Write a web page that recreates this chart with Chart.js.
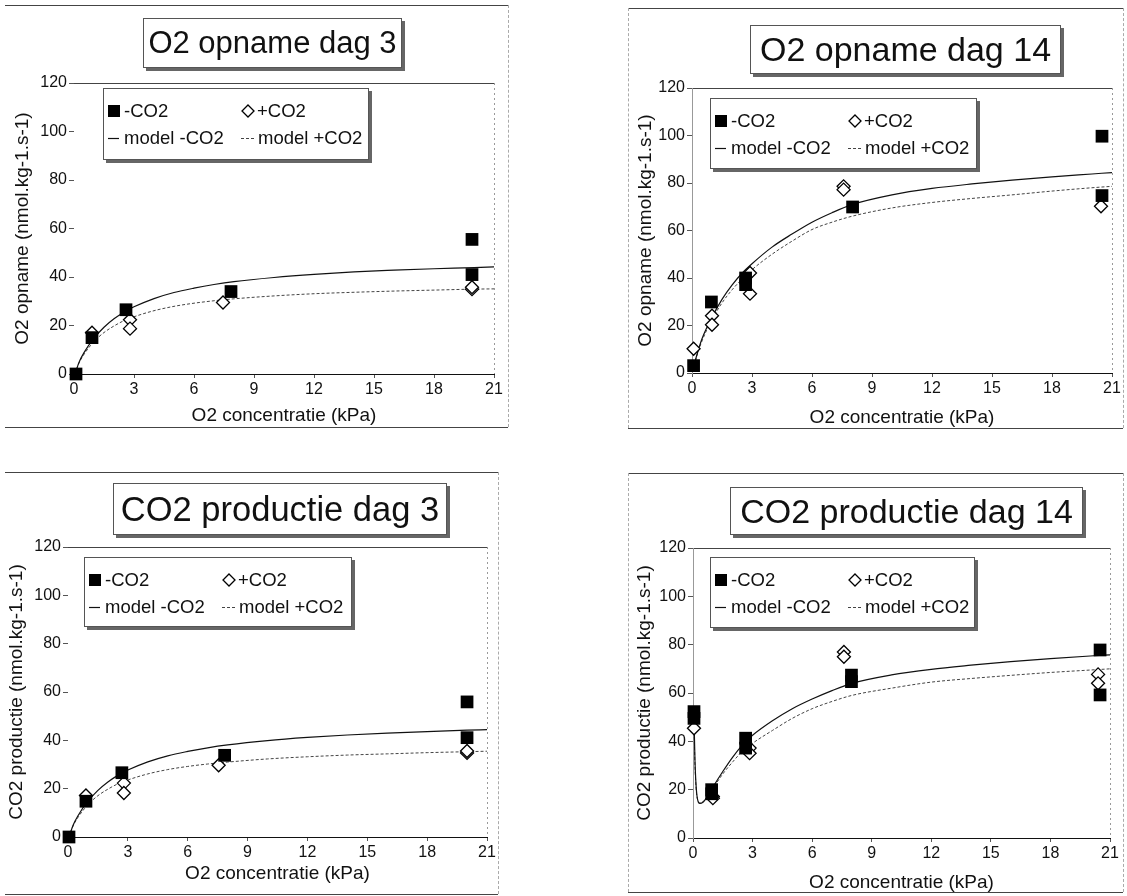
<!DOCTYPE html>
<html>
<head>
<meta charset="utf-8">
<title>O2 opname en CO2 productie</title>
<script src="https://cdn.jsdelivr.net/npm/chart.js@4.4.1/dist/chart.umd.min.js"></script>
<style>
  body { margin: 0; background: #fff; font-family: "Liberation Sans", Arial, sans-serif; color: #111; }
  #page { position: relative; width: 1127px; height: 896px; overflow: hidden; }
  canvas { position: absolute; }
  .hline { position: absolute; height: 0; border-top: 1px solid #444; }
  .vline { position: absolute; width: 0; border-left: 1px dashed #aaa; }
  .tbox, .lbox { position: absolute; box-sizing: border-box; background: #fff; border: 1px solid #555;
                 box-shadow: 3px 3px 0 #666; z-index: 2; }
  .tbox { display: flex; align-items: center; justify-content: center; white-space: nowrap; }
  .lbox span { position: absolute; font-size: 18.5px; line-height: 20px; white-space: nowrap; }
  .lbox svg { position: absolute; }
</style>
</head>
<body>
<div id="page">
  <canvas id="c1" width="520" height="440" style="left:0;top:0"></canvas>
  <canvas id="c2" width="527" height="440" style="left:600px;top:0"></canvas>
  <canvas id="c3" width="520" height="456" style="left:0;top:440px"></canvas>
  <canvas id="c4" width="527" height="456" style="left:600px;top:440px"></canvas>
</div>
<script>
// TICKS
var xTicks = [0, 3, 6, 9, 12, 15, 18, 21];
var yTicks = [0, 20, 40, 60, 80, 100, 120];

// O2 OPNAME DAG 3
var o2d3MinX = [0.1, 0.9, 2.6, 7.85, 19.9, 19.9];
var o2d3MinY = [0, 15, 26.5, 34, 55.5, 41];
var o2d3PlusX = [0.9, 2.8, 2.8, 7.45, 19.9, 19.9];
var o2d3PlusY = [17, 22.4, 18.7, 29.5, 35, 35.8];
var o2d3ModelX = [0.05, 0.25, 0.5, 1, 1.5, 2, 2.5, 3, 4, 5, 6, 7, 8, 10, 12, 14, 16, 18, 20, 21];
var o2d3ModelMin = [0, 4.8, 8.8, 14.8, 19.3, 22.8, 25.5, 27.7, 31.1, 33.6, 35.4, 36.9, 38.1, 39.8, 41.1, 42.1, 42.8, 43.4, 43.9, 44.2];
var o2d3ModelPlus = [0, 4.5, 8.1, 13.4, 17.1, 19.8, 22, 23.6, 26.1, 27.9, 29.2, 30.2, 31, 32.2, 33.1, 33.7, 34.2, 34.6, 35, 35.1];

// O2 OPNAME DAG 14
var o2d14MinX = [0.08, 0.97, 2.68, 2.68, 8.03, 20.5, 20.5];
var o2d14MinY = [3.1, 29.9, 40, 37.2, 69.9, 99.7, 74.7];
var o2d14PlusX = [0.08, 1.0, 1.0, 2.9, 2.9, 7.58, 7.58, 20.45];
var o2d14PlusY = [10.2, 24.1, 20.3, 42.1, 33.4, 78.6, 77.2, 70.2];
var o2d14ModelX = [0.1, 0.25, 0.5, 1, 1.5, 2, 2.5, 3, 4, 5, 6, 7, 8, 10, 12, 14, 16, 18, 20, 21];
var o2d14ModelMin = [3.3, 7.8, 14.4, 23.5, 31, 37, 42, 46, 53, 58.5, 63.5, 67.5, 70.9, 75, 77.7, 79.6, 81.2, 82.6, 83.8, 84.4];
var o2d14ModelPlus = [3, 7.5, 13.5, 22.5, 29.5, 35, 39.5, 43.5, 50, 55.5, 60.4, 63.5, 66, 69.5, 71.8, 73.5, 75, 76.6, 78, 78.6];

// CO2 PRODUCTIE DAG 3
var co2d3MinX = [0.05, 0.9, 2.7, 7.85, 20, 20];
var co2d3MinY = [0, 14.8, 26.6, 33.8, 55.9, 41.1];
var co2d3PlusX = [0.9, 2.8, 2.8, 7.55, 20, 20];
var co2d3PlusY = [17.2, 22.3, 18.2, 29.7, 34.8, 35.6];
var co2d3ModelX = [0.05, 0.25, 0.5, 1, 1.5, 2, 2.5, 3, 4, 5, 6, 7, 8, 10, 12, 14, 16, 18, 20, 21];
var co2d3ModelMin = [0, 4.8, 8.8, 14.8, 19.3, 22.8, 25.5, 27.7, 31.1, 33.6, 35.4, 36.9, 38.1, 39.9, 41.2, 42.2, 43, 43.6, 44.2, 44.4];
var co2d3ModelPlus = [0, 4.5, 8.1, 13.4, 17.1, 19.8, 22, 23.6, 26.1, 27.9, 29.2, 30.2, 31, 32.3, 33.2, 33.9, 34.4, 34.9, 35.3, 35.5];

// CO2 PRODUCTIE DAG 14
var co2d14MinX = [0.05, 0.05, 0.94, 0.94, 2.65, 2.65, 7.98, 7.98, 20.5, 20.5];
var co2d14MinY = [52.3, 49.5, 20, 18.3, 41.3, 37.2, 67.4, 64.7, 77.8, 59.2];
var co2d14PlusX = [0.05, 1.0, 1.0, 2.85, 2.85, 7.6, 7.6, 20.4, 20.4];
var co2d14PlusY = [45.4, 17.2, 16.5, 37.2, 35.1, 77, 75, 67.7, 64];
var co2d14ModelX = [0.05, 0.1, 0.2, 0.35, 0.5, 0.75, 1, 1.5, 2, 2.5, 3, 4, 5, 6, 7, 8, 10, 12, 14, 16, 18, 20, 21];
var co2d14ModelMin = [50, 32, 17.5, 14.3, 14.8, 17.5, 21, 27.5, 33.5, 38.5, 42.5, 48.5, 53.5, 57.5, 61, 64, 67.5, 69.8, 71.5, 73, 74.2, 75.3, 75.8];
var co2d14ModelPlus = [46, 30, 17, 14.5, 15, 17.5, 20.5, 26.5, 31.5, 36, 39.2, 44.5, 49.5, 53.5, 56.5, 59, 62, 64.5, 66, 67.3, 68.5, 69.5, 70];

var FONT = '"Liberation Sans", Arial, sans-serif';

function xy(xs, ys) {
    return xs.map(function (x, i) { return { x: x, y: ys[i] }; });
}

// draws the top / right (and left) edges of the plot area
var framePlugin = {
    id: 'frame',
    beforeDatasetsDraw: function (chart, args, opts) {
        var a = chart.chartArea, ctx = chart.ctx;
        ctx.save();
        ctx.lineWidth = 1;
        ctx.strokeStyle = '#444';
        ctx.beginPath();
        ctx.moveTo(a.left, a.top + 0.5);
        ctx.lineTo(a.right, a.top + 0.5);
        ctx.stroke();
        ctx.setLineDash([2, 3]);
        ctx.strokeStyle = '#999';
        ctx.beginPath();
        ctx.moveTo(a.right + 0.5, a.top);
        ctx.lineTo(a.right + 0.5, a.bottom);
        if (opts.left) {
            ctx.moveTo(a.left + 0.5, a.top);
            ctx.lineTo(a.left + 0.5, a.bottom);
        }
        ctx.stroke();
        ctx.restore();
    }
};

function makeChart(id, p) {
    return new Chart(document.getElementById(id), {
        type: 'scatter',
        data: {
            datasets: [{
                label: '-CO2',
                data: xy(p.minX, p.minY),
                pointStyle: 'rect',
                pointRadius: 9,
                backgroundColor: '#000',
                borderColor: '#000',
                borderWidth: 0,
                clip: false
            }, {
                label: '+CO2',
                data: xy(p.plusX, p.plusY),
                pointStyle: 'rectRot',
                pointRadius: 6.5,
                backgroundColor: '#fff',
                borderColor: '#000',
                borderWidth: 1.3,
                clip: false
            }, {
                label: 'model -CO2',
                data: xy(p.modelX, p.modelMin),
                showLine: true,
                pointRadius: 0,
                borderColor: '#111',
                borderWidth: 1.2,
                cubicInterpolationMode: 'monotone',
                clip: false
            }, {
                label: 'model +CO2',
                data: xy(p.modelX, p.modelPlus),
                showLine: true,
                pointRadius: 0,
                borderColor: '#444',
                borderWidth: 1,
                borderDash: [3, 2],
                cubicInterpolationMode: 'monotone',
                clip: false
            }]
        },
        options: {
            responsive: false,
            animation: false,
            layout: { padding: p.pad },
            plugins: {
                legend: { display: false },
                tooltip: { enabled: false },
                frame: { left: p.boxLeft }
            },
            scales: {
                x: {
                    type: 'linear',
                    min: xTicks[0],
                    max: xTicks[xTicks.length - 1],
                    afterBuildTicks: function (s) { s.ticks = xTicks.map(function (v) { return { value: v }; }); },
                    afterFit: function (s) { s.height = p.xH; },
                    grid: { drawOnChartArea: false, tickLength: 4, color: '#555' },
                    border: { display: true, color: '#111', width: 1 },
                    ticks: { color: '#111', padding: 2, font: { family: FONT, size: 16 } },
                    title: {
                        display: true, text: 'O2 concentratie (kPa)', color: '#111',
                        padding: 0, font: { family: FONT, size: 19, lineHeight: 1.2 }
                    }
                },
                y: {
                    type: 'linear',
                    min: yTicks[0],
                    max: yTicks[yTicks.length - 1],
                    afterBuildTicks: function (s) { s.ticks = yTicks.map(function (v) { return { value: v }; }); },
                    afterFit: function (s) { s.width = p.yW; },
                    grid: { drawOnChartArea: false, tickLength: 5, color: '#555' },
                    border: { display: p.boxLeft, color: '#999', dash: [2, 3] },
                    ticks: { color: '#111', padding: 2, font: { family: FONT, size: 16 } },
                    title: {
                        display: true, text: p.yTitle, color: '#111',
                        padding: 0, font: { family: FONT, size: 19, lineHeight: 1.2 }
                    }
                }
            }
        },
        plugins: [framePlugin]
    });
}

makeChart('c1', {
    minX: o2d3MinX, minY: o2d3MinY, plusX: o2d3PlusX, plusY: o2d3PlusY,
    modelX: o2d3ModelX, modelMin: o2d3ModelMin, modelPlus: o2d3ModelPlus,
    yTitle: 'O2 opname (nmol.kg-1.s-1)',
    pad: { left: 11, top: 83, right: 26, bottom: 13 }, yW: 63, xH: 53, boxLeft: false
});
makeChart('c2', {
    minX: o2d14MinX, minY: o2d14MinY, plusX: o2d14PlusX, plusY: o2d14PlusY,
    modelX: o2d14ModelX, modelMin: o2d14ModelMin, modelPlus: o2d14ModelPlus,
    yTitle: 'O2 opname (nmol.kg-1.s-1)',
    pad: { left: 34, top: 88, right: 15, bottom: 11 }, yW: 58, xH: 56, boxLeft: true
});
makeChart('c3', {
    minX: co2d3MinX, minY: co2d3MinY, plusX: co2d3PlusX, plusY: co2d3PlusY,
    modelX: co2d3ModelX, modelMin: co2d3ModelMin, modelPlus: co2d3ModelPlus,
    yTitle: 'CO2 productie (nmol.kg-1.s-1)',
    pad: { left: 5, top: 107, right: 33, bottom: 11 }, yW: 63, xH: 48, boxLeft: false
});
makeChart('c4', {
    minX: co2d14MinX, minY: co2d14MinY, plusX: co2d14PlusX, plusY: co2d14PlusY,
    modelX: co2d14ModelX, modelMin: co2d14ModelMin, modelPlus: co2d14ModelPlus,
    yTitle: 'CO2 productie (nmol.kg-1.s-1)',
    pad: { left: 33, top: 108, right: 17, bottom: 2 }, yW: 60, xH: 56, boxLeft: true
});

// PANEL FRAMES, TITLES AND LEGENDS
var page = document.getElementById('page');

function add(html) {
    page.insertAdjacentHTML('beforeend', html);
}

function frame(l, t, r, b) {
    add('<div class="hline" style="left:' + l + 'px;top:' + t + 'px;width:' + (r - l) + 'px"></div>');
    add('<div class="hline" style="left:' + l + 'px;top:' + b + 'px;width:' + (r - l) + 'px"></div>');
    add('<div class="vline" style="left:' + r + 'px;top:' + t + 'px;height:' + (b - t) + 'px"></div>');
}

function title(text, l, t, w, h, fs) {
    add('<div class="tbox" style="left:' + l + 'px;top:' + t + 'px;width:' + w + 'px;height:' + h +
        'px;font-size:' + fs + 'px">' + text + '</div>');
}

function legend(l, t, w, h) {
    var r1 = 22, r2 = 49;
    add('<div class="lbox" style="left:' + l + 'px;top:' + t + 'px;width:' + w + 'px;height:' + h + 'px">' +
        '<svg width="14" height="14" style="left:3px;top:' + (r1 - 7) + 'px"><rect x="1" y="1" width="12" height="12" fill="#000"/></svg>' +
        '<span style="left:20px;top:' + (r1 - 10) + 'px">-CO2</span>' +
        '<svg width="16" height="16" style="left:136px;top:' + (r1 - 8) + 'px"><path d="M8 2 L14 8 L8 14 L2 8 Z" fill="#fff" stroke="#000" stroke-width="1.3"/></svg>' +
        '<span style="left:153px;top:' + (r1 - 10) + 'px">+CO2</span>' +
        '<svg width="12" height="4" style="left:4px;top:' + (r2 - 1) + 'px"><line x1="0" y1="1.5" x2="11" y2="1.5" stroke="#111" stroke-width="1.2"/></svg>' +
        '<span style="left:20px;top:' + (r2 - 10) + 'px">model -CO2</span>' +
        '<svg width="15" height="4" style="left:137px;top:' + (r2 - 1) + 'px"><line x1="0" y1="1.5" x2="14" y2="1.5" stroke="#444" stroke-width="1" stroke-dasharray="3,2"/></svg>' +
        '<span style="left:154px;top:' + (r2 - 10) + 'px">model +CO2</span>' +
        '</div>');
}

frame(5, 5, 508, 427);
frame(628, 8, 1123, 428);
frame(5, 472, 498, 894);
frame(628, 473, 1123, 892);
add('<div class="vline" style="left:628px;top:8px;height:420px"></div>');
add('<div class="vline" style="left:628px;top:473px;height:419px"></div>');

title('O2 opname dag 3', 143, 18, 259, 50, 31);
title('O2 opname dag 14', 750, 25, 311, 49, 34);
title('CO2 productie dag 3', 113, 483, 334, 52, 34.5);
title('CO2 productie dag 14', 730, 487, 353, 48, 34);

legend(103, 88, 266, 72);
legend(710, 98, 267, 71);
legend(84, 557, 268, 70);
legend(710, 557, 265, 71);
</script>
</body>
</html>
